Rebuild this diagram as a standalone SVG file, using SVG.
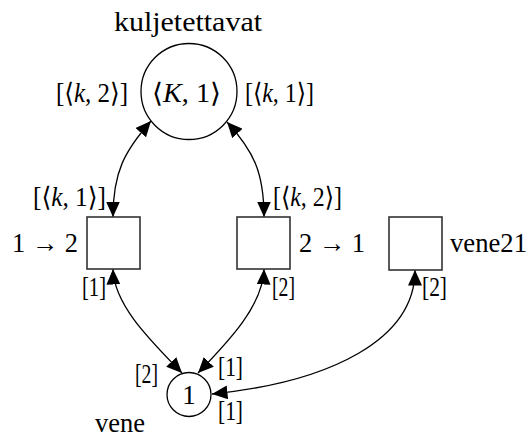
<svg xmlns="http://www.w3.org/2000/svg" width="530" height="438" viewBox="0 0 530 438">
<style>
.lbl{font-family:'Liberation Serif','DejaVu Serif',serif;font-size:27px;fill:#000}
.i{font-style:italic}
.place{fill:#fff;stroke:#000;stroke-width:1.3}
.trans{fill:#fff;stroke:#333;stroke-width:1.6}
.arc{fill:none;stroke:#000;stroke-width:1.3;marker-start:url(#ah);marker-end:url(#ah)}
</style>
<defs>
<marker id="ah" markerUnits="userSpaceOnUse" markerWidth="16" markerHeight="14" viewBox="0 0 16 14" refX="15.5" refY="7" orient="auto-start-reverse">
<path d="M0,0 L15.5,7 L0,14 Z" fill="#000"/>
</marker>
</defs>
<rect width="530" height="438" fill="#fff"/>
<g id="connectors">
<path class="arc" d="M113,217 C113,172 124.6,151 151,121"/>
<path class="arc" d="M264,217 C264,172 253.4,151 227,122"/>
<path class="arc" d="M113,269 C114,305 150,340 182,373"/>
<path class="arc" d="M264,269 C263,305 230,340 198,373"/>
<path class="arc" d="M415,270 C415,340 330,382 212,394"/>
</g>
<g id="kuljetettavat">
<circle class="place" cx="189" cy="91.5" r="48"/>
<text class="lbl" x="114" y="31" textLength="148" lengthAdjust="spacingAndGlyphs">kuljetettavat</text>
<text class="lbl" x="152" y="102" textLength="69" lengthAdjust="spacingAndGlyphs">⟨<tspan class="i">K</tspan>, 1⟩</text>
</g>
<g id="vene">
<circle class="place" cx="189" cy="394.5" r="22"/>
<text class="lbl" x="189" y="404" text-anchor="middle">1</text>
<text class="lbl" x="95" y="432" textLength="50" lengthAdjust="spacingAndGlyphs">vene</text>
</g>
<g id="t12">
<rect class="trans" x="87" y="217" width="53" height="52"/>
<text class="lbl" x="12" y="252" textLength="66" lengthAdjust="spacingAndGlyphs">1 → 2</text>
</g>
<g id="t21">
<rect class="trans" x="237" y="217" width="53" height="52"/>
<text class="lbl" x="299" y="252" textLength="66" lengthAdjust="spacingAndGlyphs">2 → 1</text>
</g>
<g id="vene21">
<rect class="trans" x="389" y="217" width="53" height="53"/>
<text class="lbl" x="450" y="252" textLength="77" lengthAdjust="spacingAndGlyphs">vene21</text>
</g>
<g id="labels">
<text class="lbl" x="56" y="102" textLength="72" lengthAdjust="spacingAndGlyphs">[⟨<tspan class="i">k</tspan>, 2⟩]</text>
<text class="lbl" x="245" y="102" textLength="69" lengthAdjust="spacingAndGlyphs">[⟨<tspan class="i">k</tspan>, 1⟩]</text>
<text class="lbl" x="33" y="206" textLength="73" lengthAdjust="spacingAndGlyphs">[⟨<tspan class="i">k</tspan>, 1⟩]</text>
<text class="lbl" x="273" y="206" textLength="69" lengthAdjust="spacingAndGlyphs">[⟨<tspan class="i">k</tspan>, 2⟩]</text>
<text class="lbl" x="82" y="296" textLength="24" lengthAdjust="spacingAndGlyphs">[1]</text>
<text class="lbl" x="272" y="296" textLength="23" lengthAdjust="spacingAndGlyphs">[2]</text>
<text class="lbl" x="422" y="296" textLength="25" lengthAdjust="spacingAndGlyphs">[2]</text>
<text class="lbl" x="135" y="383" textLength="23" lengthAdjust="spacingAndGlyphs">[2]</text>
<text class="lbl" x="218" y="376" textLength="25" lengthAdjust="spacingAndGlyphs">[1]</text>
<text class="lbl" x="218" y="420" textLength="25" lengthAdjust="spacingAndGlyphs">[1]</text>
</g>
</svg>
